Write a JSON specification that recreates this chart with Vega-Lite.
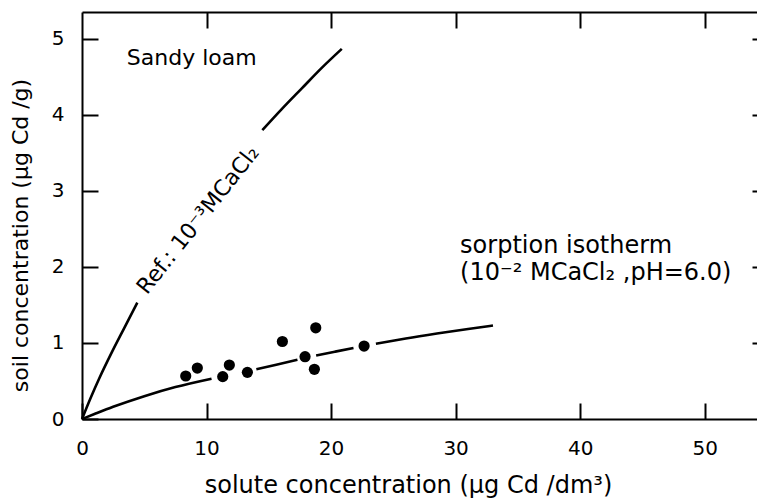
{
  "$schema": "https://vega.github.io/schema/vega-lite/v6.json",
  "width": 675,
  "height": 407,
  "autosize": {"type": "none"},
  "padding": {"left": 82, "top": 12, "right": 0, "bottom": 82},
  "background": "white",
  "config": {
    "view": {"stroke": null},
    "font": "DejaVu Sans",
    "axis": {"grid": false, "domainColor": "black", "domainWidth": 2, "tickColor": "black", "tickWidth": 2, "labelColor": "black", "titleColor": "black", "labelFont": "DejaVu Sans", "titleFont": "DejaVu Sans", "labelFontSize": 20, "titleFontSize": 22, "titleFontWeight": "normal"}
  },
  "datasets": {
    "curves": [
      {"curve": "ref", "seg": "r1", "x": 0, "y": 0},
      {"curve": "ref", "seg": "r1", "x": 0.7, "y": 0.28},
      {"curve": "ref", "seg": "r1", "x": 1.4, "y": 0.54},
      {"curve": "ref", "seg": "r1", "x": 2.4, "y": 0.88},
      {"curve": "ref", "seg": "r1", "x": 3.4, "y": 1.2},
      {"curve": "ref", "seg": "r1", "x": 4.44, "y": 1.53},
      {"curve": "ref", "seg": "r2", "x": 14.48, "y": 3.8},
      {"curve": "ref", "seg": "r2", "x": 16.0, "y": 4.07},
      {"curve": "ref", "seg": "r2", "x": 17.65, "y": 4.35},
      {"curve": "ref", "seg": "r2", "x": 19.25, "y": 4.62},
      {"curve": "ref", "seg": "r2", "x": 20.86, "y": 4.87},
      {"curve": "iso", "seg": "i1", "x": 0, "y": 0},
      {"curve": "iso", "seg": "i1", "x": 1, "y": 0.065},
      {"curve": "iso", "seg": "i1", "x": 2.5, "y": 0.16},
      {"curve": "iso", "seg": "i1", "x": 5, "y": 0.3},
      {"curve": "iso", "seg": "i1", "x": 7.5, "y": 0.42},
      {"curve": "iso", "seg": "i1", "x": 10.4, "y": 0.53},
      {"curve": "iso", "seg": "i2", "x": 14.0, "y": 0.655},
      {"curve": "iso", "seg": "i2", "x": 15.6, "y": 0.715},
      {"curve": "iso", "seg": "i2", "x": 17.3, "y": 0.78},
      {"curve": "iso", "seg": "i3", "x": 18.8, "y": 0.835},
      {"curve": "iso", "seg": "i3", "x": 20.3, "y": 0.885},
      {"curve": "iso", "seg": "i3", "x": 21.8, "y": 0.935},
      {"curve": "iso", "seg": "i4", "x": 23.6, "y": 0.99},
      {"curve": "iso", "seg": "i4", "x": 26, "y": 1.06},
      {"curve": "iso", "seg": "i4", "x": 28.5, "y": 1.125},
      {"curve": "iso", "seg": "i4", "x": 31, "y": 1.185},
      {"curve": "iso", "seg": "i4", "x": 33, "y": 1.23}
    ],
    "obs": [
      {"x": 8.33, "y": 0.566},
      {"x": 9.26, "y": 0.67},
      {"x": 11.3, "y": 0.557},
      {"x": 11.83, "y": 0.71},
      {"x": 13.28, "y": 0.614},
      {"x": 16.09, "y": 1.02},
      {"x": 17.91, "y": 0.82},
      {"x": 18.77, "y": 1.2},
      {"x": 18.66, "y": 0.654},
      {"x": 22.65, "y": 0.96}
    ],
    "labels": [
      {"label": "Sandy loam", "x": 3.6, "y": 4.75}
    ],
    "isolabels": [
      {"label": "sorption isotherm", "x": 30.36, "y": 2.28},
      {"label": "(10⁻² MCaCl₂ ,pH=6.0)", "x": 30.36, "y": 1.92}
    ],
    "rotlabel": [
      {"label": "Ref.: 10⁻³MCaCl₂", "x": 9.32, "y": 2.62}
    ]
  },
  "resolve": {"axis": {"x": "independent", "y": "independent"}},
  "layer": [
    {
      "data": {"name": "curves"},
      "mark": {"type": "line", "color": "black", "strokeWidth": 2.6, "interpolate": "monotone"},
      "encoding": {
        "x": {"field": "x", "type": "quantitative", "scale": {"domain": [0, 54.2], "nice": false, "zero": false},
              "axis": {"orient": "bottom", "values": [0, 10, 20, 30, 40, 50], "tickSize": -16, "labelPadding": 35, "labelFlush": false, "title": "solute concentration (μg Cd /dm³)", "titleFontSize": 24, "titleX": 326, "titleY": 66, "titleBaseline": "middle", "titleAnchor": "middle", "titleAlign": "center"}},
        "y": {"field": "y", "type": "quantitative", "scale": {"domain": [0, 5.355], "nice": false, "zero": false},
              "axis": {"orient": "left", "values": [0, 1, 2, 3, 4, 5], "tickSize": -16, "labelPadding": 34, "labelFlush": false, "title": "soil concentration (μg Cd /g)", "titleX": -62, "titleY": 223, "titleAngle": -90, "titleBaseline": "middle", "titleAlign": "center"}},
        "detail": {"field": "seg", "type": "nominal"}
      }
    },
    {
      "data": {"name": "obs"},
      "mark": {"type": "point", "filled": true, "color": "black", "opacity": 1, "size": 125},
      "encoding": {
        "x": {"field": "x", "type": "quantitative",
              "axis": {"orient": "top", "values": [10, 20, 30, 40, 50], "tickSize": -16, "labels": false, "title": null}},
        "y": {"field": "y", "type": "quantitative",
              "axis": {"orient": "right", "values": [1, 2, 3, 4, 5], "tickSize": -5, "labels": false, "domain": false, "title": null}}
      }
    },
    {
      "data": {"name": "labels"},
      "mark": {"type": "text", "align": "left", "baseline": "middle", "fontSize": 22, "color": "black", "font": "DejaVu Sans"},
      "encoding": {
        "x": {"field": "x", "type": "quantitative", "axis": null},
        "y": {"field": "y", "type": "quantitative", "axis": null},
        "text": {"field": "label"}
      }
    },
    {
      "data": {"name": "isolabels"},
      "mark": {"type": "text", "align": "left", "baseline": "middle", "fontSize": 24, "color": "black", "font": "DejaVu Sans"},
      "encoding": {
        "x": {"field": "x", "type": "quantitative", "axis": null},
        "y": {"field": "y", "type": "quantitative", "axis": null},
        "text": {"field": "label"}
      }
    },
    {
      "data": {"name": "rotlabel"},
      "mark": {"type": "text", "align": "center", "baseline": "middle", "fontSize": 22, "angle": -51.6, "color": "black", "font": "DejaVu Sans"},
      "encoding": {
        "x": {"field": "x", "type": "quantitative", "axis": null},
        "y": {"field": "y", "type": "quantitative", "axis": null},
        "text": {"field": "label"}
      }
    }
  ]
}
